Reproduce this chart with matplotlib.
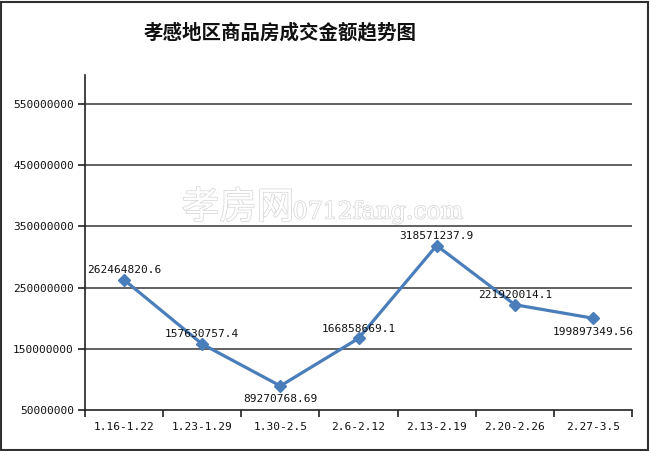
import matplotlib
matplotlib.use("Agg")
import matplotlib.pyplot as plt
import matplotlib.patheffects as pe
from matplotlib.patches import Rectangle

plt.rcParams['font.family'] = ['Noto Sans CJK SC', 'DejaVu Sans']

title = "孝感地区商品房成交金额趋势图"
categories = ["1.16-1.22", "1.23-1.29", "1.30-2.5", "2.6-2.12", "2.13-2.19", "2.20-2.26", "2.27-3.5"]
values = [262464820.6, 157630757.4, 89270768.69, 166858669.1, 318571237.9, 221920014.1, 199897349.56]
labels = ["262464820.6", "157630757.4", "89270768.69", "166858669.1", "318571237.9", "221920014.1", "199897349.56"]
label_pos = ["above", "above", "below", "above", "above", "above", "below"]
yticks = [50000000, 150000000, 250000000, 350000000, 450000000, 550000000]

W, H = 650, 451
fig = plt.figure(figsize=(W / 100, H / 100), dpi=100)
fig.patches.append(Rectangle((1 / W, 1 / H), 647 / W, 448 / H, transform=fig.transFigure,
                             fill=False, edgecolor="#303030", linewidth=1.5))

left, right, top, bottom = 85, 632, 75, 410
ax = fig.add_axes([left / W, 1 - bottom / H, (right - left) / W, (bottom - top) / H])

x = list(range(len(categories)))
ax.set_xlim(-0.5, len(categories) - 0.5)
ax.set_ylim(50000000, 597000000)

for t in yticks[1:]:
    ax.axhline(t, color="#555555", linewidth=1.3, zorder=1)

ax.plot(x, values, color="#4A7EBB", linewidth=2.3, marker="D", markersize=6.5, zorder=3)

mono = "DejaVu Sans Mono"
for xi, v, lab, pos in zip(x, values, labels, label_pos):
    if pos == "above":
        ax.annotate(lab, (xi, v), xytext=(0, 3.5), textcoords="offset points",
                    ha="center", va="bottom", fontsize=8, family=mono, color="#111111", zorder=4)
    else:
        ax.annotate(lab, (xi, v), xytext=(0, -6), textcoords="offset points",
                    ha="center", va="top", fontsize=8, family=mono, color="#111111", zorder=4)

for s in ["top", "right"]:
    ax.spines[s].set_visible(False)
ax.spines["left"].set_color("#222222")
ax.spines["bottom"].set_color("#222222")
ax.spines["left"].set_linewidth(1.2)
ax.spines["bottom"].set_linewidth(1.2)

ax.set_yticks(yticks)
ax.set_yticklabels([str(t) for t in yticks], family=mono, fontsize=8, color="#111111")
ax.set_xticks([i - 0.5 for i in range(len(categories) + 1)])
ax.set_xticklabels([])
ax.set_xticks(x, minor=True)
ax.set_xticklabels(categories, minor=True, family=mono, fontsize=8, color="#111111")
ax.tick_params(axis="x", which="major", direction="out", length=5, color="#222222", width=1.2)
ax.tick_params(axis="x", which="minor", length=0, pad=9)
ax.tick_params(axis="y", direction="out", length=5, color="#222222", width=1.2, pad=3)

fig.text(280 / W, 1 - 33 / H, title, ha="center", va="center", fontsize=14, fontweight="bold", color="#111111")

wm_fx = [pe.withStroke(linewidth=1.0, foreground="#d4d4d4")]
fig.text(238 / W, 1 - 208 / H, "孝房网", ha="center", va="center", fontsize=27, color="white",
         path_effects=wm_fx, zorder=0.5)
fig.text(378 / W, 1 - 212 / H, "0712fang.com", ha="center", va="center", fontsize=17,
         family="DejaVu Serif", color="white", path_effects=wm_fx, zorder=0.5)

fig.savefig("out.png", dpi=100)
